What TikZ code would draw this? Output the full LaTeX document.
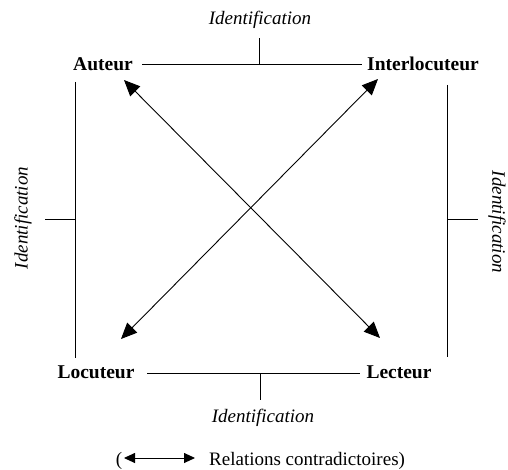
\documentclass[tikz,border=0pt]{standalone}
\usepackage{fontspec}
\setmainfont{Liberation Serif}
\usetikzlibrary{arrows.meta}
\begin{document}
\begin{tikzpicture}[x=1pt,y=-1pt,
  lbl/.style={font=\fontsize{19.5}{23}\selectfont\bfseries, anchor=base, inner sep=0pt},
  idl/.style={font=\fontsize{19}{23}\selectfont\itshape, inner sep=0pt},
  txt/.style={font=\fontsize{19}{23}\selectfont, inner sep=0pt},
  ln/.style={line width=0.8pt},
  rel/.style={line width=0.9pt, {Triangle[length=16pt,width=14pt]}-{Triangle[length=16pt,width=14pt]}},
  relsmall/.style={line width=0.9pt, {Triangle[length=11pt,width=10pt]}-{Triangle[length=11pt,width=10pt]}}]
\useasboundingbox (0,0) rectangle (508,470);

% corner labels
\node[lbl] (aut) at (103,71) {Auteur};
\node[lbl] (int) at (423,71) {Interlocuteur};
\node[lbl] (loc) at (96,378) {Locuteur};
\node[lbl] (lec) at (399,378) {Lecteur};

% identification labels
\node[idl, anchor=base] (idt) at (260,25) {Identification};
\node[idl, anchor=base] (idb) at (263,422) {Identification};
\node[idl, rotate=90] (idl) at (23,218) {Identification};
\node[idl, rotate=-90] (idr) at (497,222) {Identification};

% connector lines
\coordinate (t1) at (142,64.5);
\coordinate (t2) at (362,64.5);
\coordinate (tm) at (259.5,64.5);
\coordinate (tt) at (259.5,38);
\draw[ln] (t1) -- (t2);
\draw[ln] (tm) -- (tt);

\coordinate (b1) at (147,373);
\coordinate (b2) at (360,373);
\coordinate (bm) at (260,373);
\coordinate (bt) at (260,400);
\draw[ln] (b1) -- (b2);
\draw[ln] (bm) -- (bt);

\coordinate (l1) at (75,82);
\coordinate (l2) at (75,358);
\coordinate (lm) at (75,219);
\coordinate (lt) at (45,219);
\draw[ln] (l1) -- (l2);
\draw[ln] (lm) -- (lt);

\coordinate (r1) at (447,85);
\coordinate (r2) at (447,357);
\coordinate (rm) at (447,219);
\coordinate (rt) at (478,219);
\draw[ln] (r1) -- (r2);
\draw[ln] (rm) -- (rt);

% diagonal arrows
\coordinate (aA) at (124,80);
\coordinate (aL) at (380,338);
\coordinate (aI) at (378,79);
\coordinate (aC) at (121,339);
\draw[rel] (aA) -- (aL);
\draw[rel] (aI) -- (aC);

% legend
\node[txt, anchor=base] (par) at (119,465) {(};
\coordinate (g1) at (124,458);
\coordinate (g2) at (195,458);
\draw[relsmall] (g1) -- (g2);
\node[txt, anchor=base west] (leg) at (209,465) {Relations contradictoires)};
\end{tikzpicture}
\end{document}
